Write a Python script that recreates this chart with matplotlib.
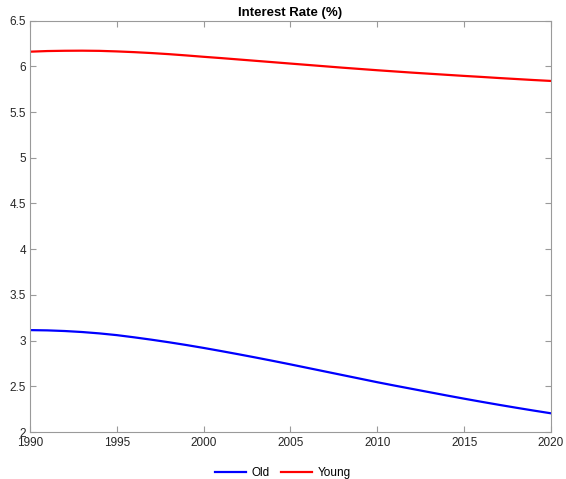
import matplotlib.pyplot as plt

years = list(range(1990, 2021))

old = [3.115, 3.112, 3.105, 3.094, 3.079, 3.060, 3.036, 3.010, 2.982, 2.952,
       2.920, 2.886, 2.851, 2.815, 2.778, 2.740, 2.701, 2.662, 2.623, 2.584,
       2.545, 2.508, 2.472, 2.436, 2.400, 2.365, 2.331, 2.298, 2.266, 2.235,
       2.205]

young = [6.160, 6.167, 6.170, 6.171, 6.169, 6.163, 6.155, 6.145, 6.133, 6.119,
         6.104, 6.090, 6.075, 6.060, 6.045, 6.030, 6.015, 6.000, 5.985, 5.971,
         5.957, 5.944, 5.931, 5.919, 5.907, 5.895, 5.884, 5.872, 5.861, 5.850,
         5.840]

plt.rcParams['font.family'] = ['Liberation Sans', 'DejaVu Sans']

fig = plt.figure(figsize=(5.66, 4.79), dpi=100)
ax = fig.add_axes([0.053, 0.098, 0.9205, 0.859])

ax.plot(years, old, color='#0000ff', lw=1.6, label='Old')
ax.plot(years, young, color='#ff0000', lw=1.6, label='Young')

ax.set_xlim(1990, 2020)
ax.set_ylim(2, 6.5)
ax.set_xticks(range(1990, 2021, 5))
ax.set_yticks([2, 2.5, 3, 3.5, 4, 4.5, 5, 5.5, 6, 6.5])
ax.set_yticklabels(['2', '2.5', '3', '3.5', '4', '4.5', '5', '5.5', '6', '6.5'])

for s in ax.spines.values():
    s.set_color('#9a9a9a')
    s.set_linewidth(0.8)
ax.tick_params(direction='in', length=4, width=0.8, color='#9a9a9a',
               labelcolor='#262626', labelsize=8.5, top=True, right=True, pad=2)
ax.tick_params(axis='x', pad=3.5)
ax.tick_params(axis='y', pad=3)

ax.set_title('Interest Rate (%)', fontsize=9.5, fontweight='bold', pad=3)

fig.legend(loc='center', bbox_to_anchor=(0.5, 0.012), ncol=2, frameon=False,
           fontsize=8.5, handlelength=2.6, columnspacing=1.0, handletextpad=0.5)

fig.savefig('out.png', dpi=100)
